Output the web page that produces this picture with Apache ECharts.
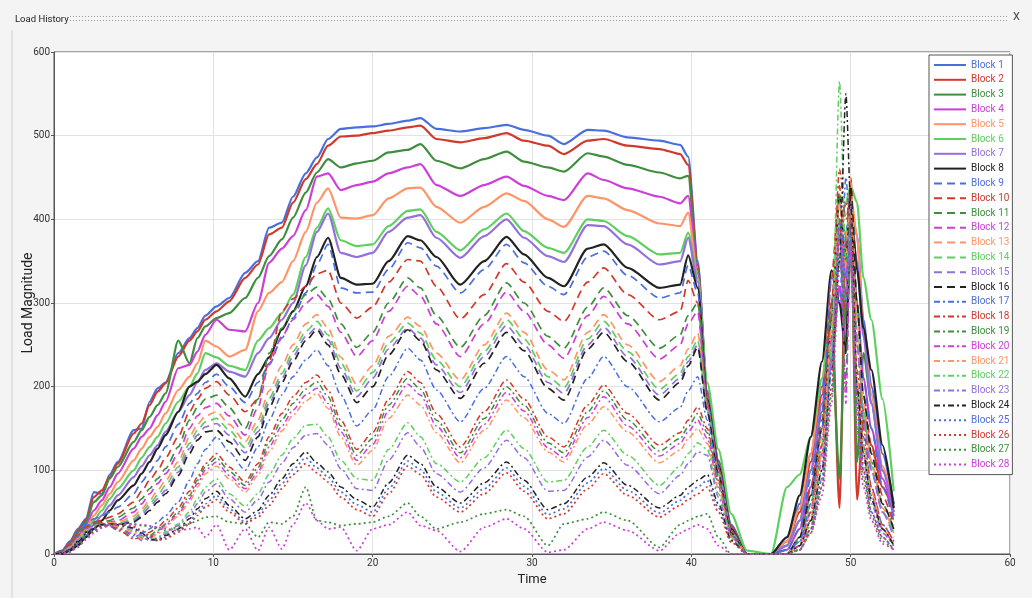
<!DOCTYPE html>
<html><head><meta charset="utf-8">
<script src="https://cdn.jsdelivr.net/npm/echarts@6/dist/echarts.min.js"></script>
<style>html,body{margin:0;padding:0;background:#f4f4f4;}#c{width:1032px;height:598px;}</style>
</head><body><div id="c"></div>
<script>
const times = [0,0.5,1,1.5,2,2.5,3,3.5,4,5,5.5,6,6.5,7,7.8,8.5,9,9.5,10.2,11,12,12.8,13.5,14.3,15,15.8,16.5,17.2,18,19,20,21,22.2,23,24,25.5,27,28.4,29.5,31,32,33.5,34.5,36,38,39.3,39.8,40.4,41,41.7,42.5,43.5,45,46,46.8,47.5,48.2,48.8,49.3,49.7,50,50.4,50.8,51.3,52,52.7];

const blockNames = ['Block 1','Block 2','Block 3','Block 4','Block 5','Block 6','Block 7','Block 8','Block 9','Block 10','Block 11','Block 12','Block 13','Block 14','Block 15','Block 16','Block 17','Block 18','Block 19','Block 20','Block 21','Block 22','Block 23','Block 24','Block 25','Block 26','Block 27','Block 28'];

// Blocks 1-8 (solid)
const solidLoads = [
 [0,4,15,30,42,74,72,95,110,148,150,182,198,205, 240,258,270,285,296, 306,336,350,390,396,427,455,474,496,508, 510,511,514,518,521,508,505,509,513,507,500,490,507,506,498,494,489,475,350, 195,112,35,0,0, 20,60,120,200,300,380,300,420,380,280,200,120,60],
 [0,3,14,28,40,68,76,92,108,144,156,178,194,204, 236,255,266,280,290, 302,330,346,382,390,420,448,466,488,499, 500,503,506,510,512,496,492,497,503,494,488,478,494,496,488,484,478,465,345, 192,110,33,0,0, 15,50,110,190,300,55,380,410,65,160,130,80,50],
 [0,3,12,26,38,62,70,90,104,134,148,164,178,192, 255,228,258,272,282, 288,306,330,356,376,402,432,456,472,462, 467,470,480,483,490,470,461,472,481,469,462,457,479,475,465,456,449,452,340, 190,110,32,0,0, 10,40,100,170,260,90,300,390,110,240,180,100,60],
 [0,2,10,22,35,52,64,80,96,126,140,150,166,182, 222,226,242,262,280, 268,266,300,348,365,380,411,451,455,435, 441,445,455,462,466,441,428,441,451,440,428,423,455,447,437,427,419,428,335, 188,108,30,0,0, 5,30,80,150,230,320,250,360,300,210,150,90,45],
 [0,1,8,18,30,46,58,72,86,112,126,140,152,168, 196,212,228,255,248, 236,244,290,312,325,350,385,420,437,402, 401,405,425,437,438,415,396,415,431,422,400,391,428,425,411,395,392,408,330, 186,106,30,0,0, 15,55,120,210,300,400,340,430,380,270,190,105,55],
 [0,1,6,15,26,40,52,66,78,100,115,128,140,156, 182,200,216,240,235, 225,220,255,270,288,310,355,390,413,375, 368,370,392,410,412,385,363,388,407,386,366,360,400,398,380,358,360,384,330, 205,125,48,4,0, 80,95,140,210,290,390,420,440,420,330,280,185,75],
 [0,0,5,12,22,35,46,58,70,92,105,118,130,146, 170,190,205,220,228, 218,212,240,258,280,300,345,385,407,360, 355,360,385,402,405,378,354,380,400,378,356,349,393,392,370,346,350,378,325, 184,104,28,0,0, 10,40,100,180,280,350,300,400,350,260,180,100,50],
 [0,0,4,10,20,30,40,52,64,82,96,110,126,142, 170,200,206,215,226, 210,188,215,235,268,290,320,355,378,330, 322,323,350,380,375,355,322,350,379,358,330,320,365,370,342,318,322,357,318, 185,106,30,0,0, 20,70,140,230,339,300,240,420,340,270,220,130,55]
];

// Blocks 9-16 (dashed)
const dashedLoads = [
 [0,2,12,26,36,42,46,50,56,72,86,98,112,128, 155,180,192,205,215, 200,181,205,226,258,282,312,346,370,318, 312,313,340,372,366,344,312,340,370,348,320,310,355,362,333,306,312,345,312, 182,104,28,0,0, 5,30,90,170,300,420,380,440,300,210,150,80,40],
 [0,2,10,22,33,38,40,44,48,62,75,88,100,115, 140,170,185,198,206, 190,170,185,230,290,305,320,335,339,300, 282,295,325,352,350,320,281,310,347,325,290,278,325,342,310,280,290,327,300, 180,102,28,0,0, 0,20,80,160,330,440,300,450,260,190,130,70,35],
 [0,1,9,20,31,36,38,40,44,55,66,78,90,102, 128,160,175,185,190, 175,150,185,240,270,290,310,319,305,275, 247,265,300,330,318,285,247,285,324,300,260,246,295,318,285,246,262,285,300, 178,100,27,0,0, 0,20,70,150,280,400,200,420,300,170,110,60,30],
 [0,1,8,19,30,35,37,38,40,50,60,72,84,96, 120,150,165,175,180, 165,142,175,228,260,280,300,310,296,265, 236,255,290,320,308,275,236,275,313,290,250,234,285,308,275,233,250,275,290, 176,98,26,0,0, 0,15,60,130,260,380,330,400,250,160,100,50,25],
 [0,1,8,18,29,34,36,37,38,45,54,64,76,88, 110,140,155,165,170, 155,134,160,195,225,250,275,286,270,235, 203,225,260,283,272,240,208,250,288,265,220,208,265,286,250,206,225,245,264, 174,97,26,0,0, 0,10,55,140,270,420,350,450,280,180,110,55,25],
 [0,1,7,17,28,34,36,36,36,42,50,60,70,82, 104,132,148,158,162, 148,127,152,186,216,242,266,278,262,228, 195,217,252,276,264,232,200,242,280,257,212,199,257,278,242,197,216,236,256, 172,96,25,0,0, 0,15,60,130,250,400,380,430,260,170,105,50,25],
 [0,1,6,16,27,33,35,36,35,40,47,56,66,76, 98,126,142,152,156, 142,121,146,180,210,236,260,271,256,222, 188,210,245,270,258,226,193,236,273,250,205,192,250,271,236,190,210,230,250, 170,95,25,0,0, 0,10,50,120,240,380,300,420,250,160,100,50,20],
 [0,1,6,15,26,32,35,36,35,38,44,52,62,72, 94,120,136,146,148, 134,112,140,175,205,230,255,268,250,215, 181,200,238,268,255,220,186,228,265,243,198,184,245,265,230,184,205,225,247, 170,95,25,0,0, 0,20,70,150,280,430,350,440,300,190,120,60,30]
];

// Blocks 17-24 (dash-dot)
const dashDotLoads = [
 [0,3,14,26,34,37,36,33,28,20,24,30,38,46, 62,88,108,125,140, 122,100,128,160,190,212,232,244,225,190, 153,172,212,246,232,196,158,198,236,212,168,156,210,236,200,158,175,195,212, 160,92,24,0,0, 5,15,60,150,330,300,450,380,200,140,80,35,15],
 [0,2,12,24,32,36,37,34,30,18,20,26,32,40, 55,75,92,108,120, 104,86,108,140,168,188,205,214,196,160, 125,145,185,218,205,168,128,170,208,185,140,128,178,202,168,130,145,160,176, 150,88,22,0,0, 0,10,50,130,300,460,400,430,220,150,80,35,15],
 [0,2,10,22,31,35,36,35,31,22,18,22,28,36, 50,70,88,104,115, 99,82,103,134,160,180,197,206,188,153, 118,138,178,210,197,160,121,162,200,178,133,121,170,195,160,123,138,152,168, 145,85,21,0,0, 0,10,40,120,280,430,350,400,200,130,70,30,10],
 [0,1,9,20,30,34,36,35,32,24,16,20,26,34, 48,66,84,100,110, 94,78,98,128,153,172,190,198,180,146, 112,131,171,203,190,153,115,155,193,171,127,115,163,188,153,117,132,146,160, 138,80,20,0,0, 0,10,40,110,260,400,180,380,190,120,70,30,10],
 [0,1,8,18,28,33,35,35,33,26,18,18,24,32, 45,62,80,96,105, 90,74,94,122,147,166,183,192,174,140, 106,124,162,190,178,145,109,148,184,163,122,110,155,176,146,109,124,138,150, 132,78,20,0,0, 0,10,45,120,270,420,380,410,210,130,75,30,12],
 [0,1,7,17,27,33,35,36,34,28,20,16,20,26, 36,50,66,80,90, 72,57,72,95,118,138,154,155,140,112, 90,88,125,157,140,108,86,115,148,126,86,88,128,148,118,82,105,120,133, 125,72,18,0,0, 0,5,35,100,240,565,350,380,190,120,65,25,10],
 [0,1,6,16,26,32,35,36,35,30,22,16,18,24, 34,46,60,74,84, 66,50,65,86,108,127,142,144,130,102, 78,76,112,145,128,96,74,103,136,115,75,76,116,136,106,72,94,108,122, 118,68,17,0,0, 0,5,30,90,230,380,330,360,180,110,60,25,10],
 [0,1,5,14,24,31,35,36,35,31,25,18,16,22, 30,42,54,66,75, 58,42,52,70,90,108,122,109,98,80, 65,56,85,118,108,80,61,85,110,88,53,60,92,109,82,55,70,80,88, 95,60,16,0,0, 0,10,40,100,220,350,550,420,200,120,65,30,10]
];

// Blocks 25-28 (dotted)
const dottedLoads = [
 [0,0,4,12,22,30,34,36,36,32,26,20,16,20, 28,38,50,60,70, 54,38,48,64,84,101,115,103,92,74, 59,50,78,111,101,74,55,78,103,81,47,54,85,102,76,49,64,72,80, 88,55,15,0,0, 0,5,30,90,220,400,330,380,170,100,50,20,5],
 [0,0,3,10,20,28,33,36,36,33,28,22,17,18, 26,36,46,56,65, 50,36,44,58,78,95,108,97,86,68, 53,45,72,105,95,68,50,72,97,75,42,48,78,96,70,44,58,65,72, 80,50,14,0,0, 0,5,30,80,200,380,420,400,180,100,50,20,5],
 [0,0,3,10,19,27,32,35,36,35,34,33,30,28, 32,36,40,44,45, 38,36,20,38,36,45,80,40,38,34, 36,38,45,61,45,30,38,48,53,45,10,36,42,50,40,8,35,40,45, 48,20,0,0,0, 0,5,25,80,190,360,300,350,150,90,45,15,5],
 [0,0,2,8,17,25,31,34,36,36,35,34,32,30, 28,30,32,20,35, 5,30,4,32,6,35,61,40,30,32, 4,30,35,50,34,28,3,32,42,30,2,5,30,38,28,4,25,30,35, 30,10,0,0,0, 0,5,25,70,180,340,380,360,150,80,40,12,5]
];

const palette = ['#4a6fdc','#d0392b','#3e8e3e','#cc3fd6','#ff9466','#5fcf5f','#9370db','#222222'];
const xTicks = {min:0, max:60, interval:10};
const yTicks = {min:0, max:600, interval:100};

const groups = [
  {loads: solidLoads, type: 'solid', width: 2.2},
  {loads: dashedLoads, type: [8,5], width: 1.7},
  {loads: dashDotLoads, type: [6,3,2,3], width: 1.5},
  {loads: dottedLoads, type: [2,3], width: 1.7}
];

const series = [];
const legendData = [];
let k = 0;
groups.forEach(g => {
  g.loads.forEach(vals => {
    const color = palette[k % 8];
    const name = blockNames[k];
    series.push({
      name, type: 'line', symbol: 'none', smooth: 0.25, smoothMonotone: 'x',
      data: times.map((t, i) => [t, vals[i]]),
      lineStyle: {color, width: g.width, type: g.type},
      itemStyle: {color},
      emphasis: {disabled: true}
    });
    legendData.push({name, textStyle: {color}});
    k++;
  });
});

const chart = echarts.init(document.getElementById('c'), null, {renderer: 'canvas'});
chart.setOption({
  animation: false,
  backgroundColor: '#f4f4f4',
  grid: {left: 54, top: 52, right: 22, bottom: 44, show: true, backgroundColor: '#ffffff', borderColor: '#555', borderWidth: 1},
  xAxis: {
    type: 'value', min: xTicks.min, max: xTicks.max, interval: xTicks.interval,
    name: 'Time', nameLocation: 'middle', nameGap: 17,
    nameTextStyle: {fontFamily: 'Roboto', fontSize: 13, color: '#222'},
    axisLine: {lineStyle: {color: '#555'}},
    axisTick: {show: true, length: 3, lineStyle: {color: '#555'}},
    axisLabel: {fontFamily: 'Roboto', fontSize: 10, color: '#333', margin: 4},
    splitLine: {show: true, lineStyle: {color: '#e2e2e2'}}
  },
  yAxis: {
    type: 'value', min: yTicks.min, max: yTicks.max, interval: yTicks.interval,
    name: 'Load Magnitude', nameLocation: 'middle', nameGap: 19, nameMoveOverlap: false,
    nameTextStyle: {fontFamily: 'Roboto', fontSize: 14, color: '#222'},
    axisLine: {show: true, lineStyle: {color: '#555'}},
    axisTick: {show: true, length: 3, lineStyle: {color: '#555'}},
    axisLabel: {fontFamily: 'Roboto', fontSize: 10, color: '#333', margin: 4},
    splitLine: {show: true, lineStyle: {color: '#e2e2e2'}}
  },
  legend: {
    orient: 'vertical', left: 929, top: 55,
    data: legendData,
    itemWidth: 32, itemHeight: 12, itemGap: 2.8,
    padding: [4, 3, 4, 4],
    itemStyle: {opacity: 0},
    backgroundColor: '#ffffff', borderColor: '#555', borderWidth: 1,
    textStyle: {fontFamily: 'Roboto', fontSize: 10, lineHeight: 12},
    selectedMode: false
  },
  graphic: [
    {type: 'line', shape: {x1: 12, y1: 30, x2: 12, y2: 598}, style: {stroke: '#cfcfcf', lineWidth: 1}},
    {type: 'text', left: 15, top: 15, style: {text: 'Load History', fontFamily: 'Roboto', fontSize: 9.5, fill: '#222'}},
    {type: 'line', shape: {x1: 70, y1: 16.5, x2: 1008, y2: 16.5}, style: {stroke: '#999', lineWidth: 1, lineDash: [1, 2]}},
    {type: 'line', shape: {x1: 70, y1: 20.5, x2: 1008, y2: 20.5}, style: {stroke: '#999', lineWidth: 1, lineDash: [1, 2]}},
    {type: 'text', left: 1013, top: 12, style: {text: 'X', fontFamily: 'Roboto', fontSize: 11, fill: '#444'}}
  ],
  series
});
</script>
</body></html>
